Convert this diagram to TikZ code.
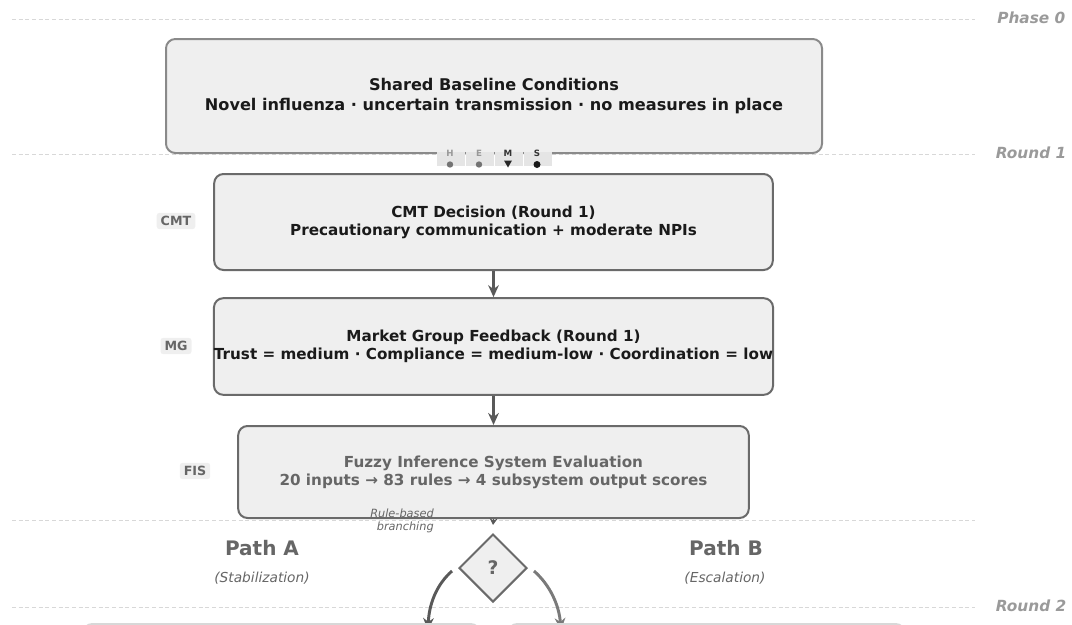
\documentclass[tikz,border=0pt]{standalone}
\usepackage{fontspec}
\setmainfont{DejaVu Sans}
\usetikzlibrary{shapes.geometric,arrows.meta}
\definecolor{boxfill}{HTML}{EFEFEF}
\definecolor{boxline}{HTML}{6A6A6A}
\definecolor{lightline}{HTML}{8A8A8A}
\definecolor{dashc}{HTML}{D8D8D8}
\definecolor{labc}{HTML}{9A9A9A}
\definecolor{txt}{HTML}{1A1A1A}
\definecolor{gtxt}{HTML}{666666}
\definecolor{arrc}{HTML}{595959}
\tikzset{
  x=0.75pt,y=-0.75pt,
  stagebox/.style={draw=boxline,fill=boxfill,line width=1.5pt,rounded corners=7pt,
    font=\bfseries\fontsize{11.4}{13.4}\selectfont,text=txt,align=center,inner sep=0pt},
  sidelab/.style={fill=boxfill,rounded corners=2pt,font=\bfseries\fontsize{9.5}{11}\selectfont,
    text=gtxt,inner xsep=3pt,inner ysep=2.5pt},
  sepline/.style={dashc,dashed,line width=0.6pt,dash pattern=on 3pt off 2pt},
  roundlab/.style={font=\bfseries\itshape\fontsize{11.5}{13}\selectfont,text=labc,anchor=east},
  flow/.style={arrc,line width=1.6pt,-{Stealth[length=9pt,width=8pt]}},
  pathlab/.style={font=\bfseries\fontsize{15}{17}\selectfont,text=gtxt},
  pathsub/.style={font=\itshape\fontsize{10.3}{12}\selectfont,text=gtxt},
  hemsbg/.style={fill=black!10,minimum width=21.5pt,minimum height=10pt,inner sep=0pt},
  hemsl/.style={font=\bfseries\fontsize{6.5}{7}\selectfont,inner sep=0pt},
}
\begin{document}
\begin{tikzpicture}
\useasboundingbox (0,0) rectangle (1072,625);
\clip (0,0) rectangle (1072,625);
% separators
\draw[sepline] (12,19) -- (975,19);
\draw[sepline] (12,154) -- (975,154);
\draw[sepline] (12,520) -- (975,520);
\draw[sepline] (12,607) -- (975,607);
\node[roundlab] (ph0) at (1070,18) {Phase 0};
\node[roundlab] (r1) at (1071,153) {Round 1};
\node[roundlab] (r2) at (1071,606) {Round 2};
% baseline
\node[stagebox,draw=lightline,font=\bfseries\fontsize{12.1}{14.4}\selectfont,
  minimum width=492pt,minimum height=85.5pt] (base) at (494,96)
  {Shared Baseline Conditions\\Novel influenza · uncertain transmission · no measures in place};
% HEMS indicator
\node[hemsbg] (hb) at (451,159) {};
\node[hemsbg] (eb) at (480,159) {};
\node[hemsbg] (mb) at (509,159) {};
\node[hemsbg] (sb) at (538,159) {};
\node[hemsl,text=black!40] (hl) at (450,153) {H};
\node[hemsl,text=black!40] (el) at (479,153) {E};
\node[hemsl,text=black!80] (ml) at (508,153) {M};
\node[hemsl,text=black!80] (sl) at (537,153) {S};
\fill[black!55] (450,164.5) circle (3.2);
\fill[black!55] (479,164.5) circle (3.2);
\fill[black!85] (504,160.5) -- (512,160.5) -- (508,167.5) -- cycle;
\fill[black!90] (537,164.5) circle (3.5);
% CMT
\node[stagebox,minimum width=419pt,minimum height=72pt] (cmt) at (493.5,222)
  {CMT Decision (Round 1)\\Precautionary communication + moderate NPIs};
\node[sidelab] (cmtl) at (176,221) {CMT};
% MG
\node[stagebox,minimum width=419pt,minimum height=72.5pt] (mg) at (493.5,346.5)
  {Market Group Feedback (Round 1)\\Trust = medium · Compliance = medium-low · Coordination = low};
\node[sidelab] (mgl) at (176,346) {MG};
% FIS
\node[stagebox,text=gtxt,minimum width=383pt,minimum height=69pt] (fis) at (493.5,472)
  {Fuzzy Inference System Evaluation\\20 inputs → 83 rules → 4 subsystem output scores};
\node[sidelab] (fisl) at (195,471) {FIS};
% arrows
\draw[flow] (cmt.south) -- (mg.north);
\draw[flow] (mg.south) -- (fis.north);
\coordinate (fisend) at (493,525);
\draw[flow,line width=1pt,-{Stealth[length=5pt,width=6pt]}] (fis.south) -- (fisend);
% decision
\node[diamond,draw=boxline,fill=boxfill,line width=1.5pt,minimum width=51pt,minimum height=51pt,
  inner sep=0pt,font=\bfseries\fontsize{14}{16}\selectfont,text=gtxt] (dec) at (493,568) {?};
\node[font=\itshape\fontsize{8.5}{9.5}\selectfont,text=gtxt,align=right] (rb) at (402,521)
  {Rule-based\\branching};
\node[pathlab] (pa) at (262,548) {Path A};
\node[pathsub] (pas) at (262,578) {(Stabilization)};
\node[pathlab] (pb) at (726,548) {Path B};
\node[pathsub] (pbs) at (725,578) {(Escalation)};
% branch arrows
\coordinate (la) at (428,630);
\coordinate (lb) at (561,630);
\draw[flow,line width=2.2pt] (dec.west) ++(-6,3) .. controls (436,585) and (429,605) .. (la);
\draw[flow,line width=2.2pt,arrc!80] (dec.east) ++(6,3) .. controls (550,585) and (559,605) .. (lb);
% partial boxes of next round
\draw[dashc,line width=1.5pt,rounded corners=7pt] (83,660) -- (83,624) -- (480,624) -- (480,660);
\draw[dashc,line width=1.5pt,rounded corners=7pt] (508,660) -- (508,624) -- (905,624) -- (905,660);
\end{tikzpicture}
\end{document}
